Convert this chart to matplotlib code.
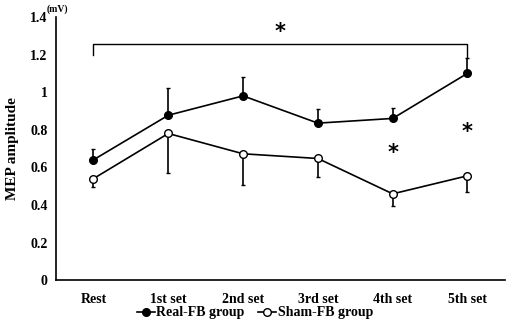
import matplotlib
matplotlib.use("Agg")
import matplotlib.pyplot as plt
from matplotlib.lines import Line2D

plt.rcParams["font.family"] = ["Liberation Serif", "DejaVu Serif"]
plt.rcParams["font.weight"] = "bold"
plt.rcParams["axes.labelweight"] = "bold"

categories = ["Rest", "1st set", "2nd set", "3rd set", "4th set", "5th set"]
real_fb = [0.64, 0.877, 0.98, 0.835, 0.86, 1.10]
real_err = [0.055, 0.146, 0.10, 0.075, 0.057, 0.08]
sham_fb = [0.54, 0.78, 0.672, 0.647, 0.459, 0.555]
sham_err = [0.044, 0.209, 0.167, 0.097, 0.064, 0.085]

fig = plt.figure(figsize=(5.1, 3.25), dpi=100)
ax = fig.add_axes([0.11, 0.138, 0.88, 0.81])
x = list(range(len(categories)))

ax.errorbar(x, real_fb, yerr=[[0] * 6, real_err], color="black", lw=1.2,
            marker="o", ms=5.5, mfc="black", mec="black", capsize=1.5,
            elinewidth=1.2, zorder=3)
ax.errorbar(x, sham_fb, yerr=[sham_err, [0] * 6], color="black", lw=1.2,
            marker="o", ms=5.5, mfc="white", mec="black", capsize=1.5,
            elinewidth=1.2, zorder=3)

# significance bracket Rest vs 5th set
ax.plot([0, 0, 5, 5], [1.20, 1.255, 1.255, 1.18], color="black", lw=1.0)
ax.text(2.5, 1.32, "*", ha="center", va="center", fontsize=15, family="DejaVu Sans")
ax.text(4, 0.675, "*", ha="center", va="center", fontsize=15, family="DejaVu Sans")
ax.text(5, 0.79, "*", ha="center", va="center", fontsize=15, family="DejaVu Sans")

ax.set_xlim(-0.5, 5.5)
ax.set_ylim(0, 1.4)
ax.set_yticks([0, 0.2, 0.4, 0.6, 0.8, 1.0, 1.2, 1.4])
ax.set_yticklabels(["0", "0.2", "0.4", "0.6", "0.8", "1", "1.2", "1.4"])
ax.set_xticks(x)
ax.set_xticklabels(categories)
ax.tick_params(length=0, labelsize=10, pad=6)
ax.tick_params(axis="x", pad=9)
for s in ["top", "right"]:
    ax.spines[s].set_visible(False)
for s in ["left", "bottom"]:
    ax.spines[s].set_linewidth(1.2)
ax.set_ylabel("MEP amplitude", fontsize=11, labelpad=8)
fig.text(0.113, 0.972, "(mV)", fontsize=7, ha="center", va="center")

handles = [
    Line2D([], [], color="black", lw=1.2, marker="o", ms=5.5, mfc="black", mec="black"),
    Line2D([], [], color="black", lw=1.2, marker="o", ms=5.5, mfc="white", mec="black"),
]
fig.legend(handles, ["Real-FB group", "Sham-FB group"], loc="center",
           bbox_to_anchor=(0.5, 0.037), ncol=2, frameon=False,
           handlelength=1.3, handletextpad=0.1, columnspacing=1.0,
           fontsize=10, borderpad=0)

fig.savefig("out.png", dpi=100)
